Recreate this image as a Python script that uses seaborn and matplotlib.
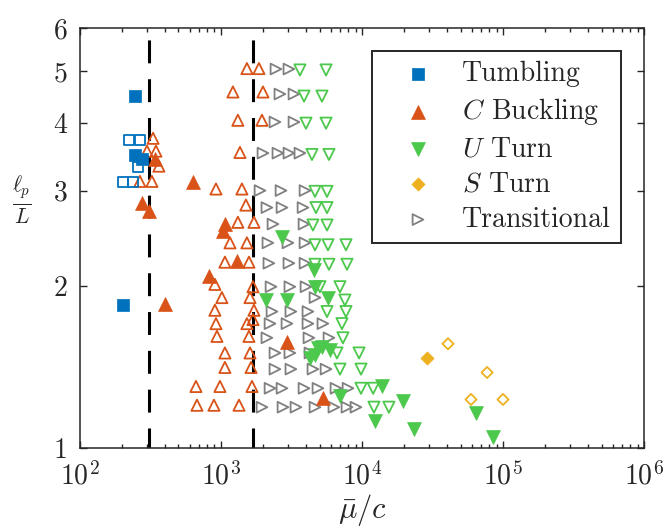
import numpy as np
import pandas as pd
import matplotlib
matplotlib.use("Agg")
import matplotlib.pyplot as plt
import seaborn as sns
from matplotlib.ticker import FixedLocator, FixedFormatter, LogLocator, NullLocator, NullFormatter

# ---------------- data ----------------
tumbling_filled_x = [245, 245, 276, 202]
tumbling_filled_y = [4.50, 3.49, 3.43, 1.84]
tumbling_open_x = [223, 267, 258, 202, 238]
tumbling_open_y = [3.72, 3.72, 3.32, 3.11, 3.11]

cbuck_filled_x = [340, 276, 309, 633, 1067, 1040, 1290, 822, 401, 2938, 5284]
cbuck_filled_y = [3.43, 2.85, 2.75, 3.11, 2.60, 2.52, 2.22, 2.08, 1.85, 1.57, 1.24]
cbuck_open_x = [330, 299, 346, 363, 266, 324,
                1528, 1860, 1216, 1986, 1318, 1953, 1364,
                922, 1408, 1503, 1318, 1714, 1159, 1528,
                1067, 1580, 906, 1687, 1015, 1607, 906, 1714,
                922, 1528, 1687, 937, 1580, 1067, 1607, 1067, 1635,
                665, 984, 1660, 676, 892, 1343]
cbuck_open_y = [3.75, 3.55, 3.55, 3.33, 3.12, 3.12,
                5.05, 5.05, 4.57, 4.57, 4.05, 4.05, 3.53,
                3.02, 3.02, 2.82, 2.62, 2.62, 2.40, 2.40,
                2.21, 2.21, 2.01, 1.99, 1.90, 1.90, 1.80, 1.80,
                1.70, 1.70, 1.73, 1.61, 1.61, 1.50, 1.50, 1.41, 1.41,
                1.30, 1.30, 1.30, 1.20, 1.20, 1.20]

uturn_filled_x = [2710, 4570, 4644, 2084, 2938, 5742, 5202, 5929, 4277, 4644,
                  4900, 6982, 13870, 19540, 12360, 23400, 64400, 84900]
uturn_filled_y = [2.46, 2.14, 1.99, 1.88, 1.88, 1.90, 1.54, 1.52, 1.47, 1.49,
                  1.53, 1.25, 1.30, 1.22, 1.12, 1.085, 1.16, 1.05]
uturn_open_x = [3631, 5561, 3882, 5202, 4009, 5561, 4420, 5834, 4644, 5651,
                4721, 5651, 4490, 5651, 4644, 5742, 7703, 4644, 5834, 7830,
                5035, 6982, 7570, 5651, 7703, 7211, 7330, 6650, 9531,
                6982, 9842, 9842, 12000, 12160, 15520]
uturn_open_y = [5.02, 5.02, 4.49, 4.49, 4.00, 4.00, 3.50, 3.50, 2.99, 2.99,
                2.79, 2.79, 2.59, 2.59, 2.38, 2.38, 2.38, 2.19, 2.19, 2.19,
                1.99, 1.99, 1.88, 1.79, 1.79, 1.70, 1.60, 1.50, 1.50,
                1.40, 1.40, 1.29, 1.29, 1.19, 1.19]

sturn_filled_x = [28900]
sturn_filled_y = [1.47]
sturn_open_x = [40740, 77100, 59300, 100000]
sturn_open_y = [1.56, 1.38, 1.23, 1.23]

trans_x = [2456, 3034, 2619, 3295, 2415, 3295,
           1986, 2535, 3034, 3631, 1892, 2666, 3945,
           2118, 2710, 3819, 2339, 3882, 2153, 2985, 3945,
           2188, 3034, 3945, 2265, 3082, 4009, 4644,
           2301, 3133, 4139, 2228, 2938, 4139, 5284,
           2118, 4207, 5834, 2415, 3082, 4277,
           2415, 3133, 4490, 5561,
           2228, 2710, 3882, 4875, 6543, 7962,
           1955, 2754, 3404, 4644, 6324, 7830, 9065]
trans_y = [5.04, 5.04, 4.53, 4.53, 4.02, 4.02,
           3.52, 3.52, 3.52, 3.52, 3.00, 3.00, 3.00,
           2.79, 2.79, 2.79, 2.60, 2.60, 2.40, 2.40, 2.40,
           2.20, 2.20, 2.20, 1.99, 1.99, 1.99, 1.90,
           1.79, 1.79, 1.79, 1.70, 1.70, 1.70, 1.70,
           1.60, 1.60, 1.60, 1.50, 1.50, 1.50,
           1.40, 1.40, 1.40, 1.40,
           1.29, 1.29, 1.29, 1.29, 1.29, 1.29,
           1.19, 1.19, 1.19, 1.19, 1.19, 1.19, 1.19]

thresholds = [308, 1690]

x_ticks = [1e2, 1e3, 1e4, 1e5, 1e6]
x_tick_labels = [r"$10^{2}$", r"$10^{3}$", r"$10^{4}$", r"$10^{5}$", r"$10^{6}$"]
y_ticks = [1, 2, 3, 4, 5, 6]
y_tick_labels = ["1", "2", "3", "4", "5", "6"]

legend_labels = ["Tumbling", r"$C$ Buckling", r"$U$ Turn", r"$S$ Turn", "Transitional"]

# ---------------- style ----------------
sns.set_style("ticks")
plt.rcParams["font.family"] = ["cmr10", "DejaVu Sans"]
plt.rcParams["mathtext.fontset"] = "cm"
plt.rcParams["axes.unicode_minus"] = False
plt.rcParams["axes.formatter.use_mathtext"] = True

blue = "#0072BD"
orange = "#D95319"
green = "#4CC84C"
yellow = "#EDB120"
gray = "#808080"

fig = plt.figure(figsize=(6.66, 5.32), dpi=100)
ax = fig.add_axes([0.120, 0.158, 0.847, 0.789])

for t in thresholds:
    ax.plot([t, t], [6, 1], color="black", lw=2.2,
            linestyle=(8.8, (7.5, 5.2)), zorder=1)

def open_pts(xs, ys, marker, color, s, lw=1.3, label="_nolegend_", z=2):
    return sns.scatterplot(x=xs, y=ys, ax=ax, marker=marker, s=s,
                           color=color, facecolor="none", edgecolor=color,
                           linewidth=lw, label=label, zorder=z, legend=False)

def filled_pts(xs, ys, marker, color, s, label="_nolegend_", z=3):
    return sns.scatterplot(x=xs, y=ys, ax=ax, marker=marker, s=s,
                           color=color, edgecolor=color, linewidth=0.5,
                           label=label, zorder=z, legend=False)

open_pts(trans_x, trans_y, ">", gray, 60, label=legend_labels[4])
open_pts(cbuck_open_x, cbuck_open_y, "^", orange, 65)
open_pts(uturn_open_x, uturn_open_y, "v", green, 65)
open_pts(sturn_open_x, sturn_open_y, "D", yellow, 32)
open_pts(tumbling_open_x, tumbling_open_y, "s", blue, 55)
filled_pts(cbuck_filled_x, cbuck_filled_y, "^", orange, 100, label=legend_labels[1])
filled_pts(uturn_filled_x, uturn_filled_y, "v", green, 100, label=legend_labels[2])
filled_pts(sturn_filled_x, sturn_filled_y, "D", yellow, 45, label=legend_labels[3])
filled_pts(tumbling_filled_x, tumbling_filled_y, "s", blue, 65, label=legend_labels[0])

ax.set_xscale("log")
ax.set_yscale("log")
ax.set_xlim(1e2, 1e6)
ax.set_ylim(1, 6)

ax.xaxis.set_major_locator(FixedLocator(x_ticks))
ax.xaxis.set_major_formatter(FixedFormatter(x_tick_labels))
ax.xaxis.set_minor_locator(LogLocator(base=10, subs=np.arange(2, 10)))
ax.xaxis.set_minor_formatter(NullFormatter())
ax.yaxis.set_major_locator(FixedLocator(y_ticks))
ax.yaxis.set_major_formatter(FixedFormatter(y_tick_labels))
ax.yaxis.set_minor_locator(NullLocator())

ax.tick_params(which="both", direction="in", top=True, right=True,
               color="#262626", width=1.0)
ax.tick_params(which="major", length=5)
ax.tick_params(which="minor", length=3)
ax.tick_params(axis="x", labelsize=20, pad=10)
ax.tick_params(axis="y", labelsize=20, pad=9)
for sp in ax.spines.values():
    sp.set_color("#262626")
    sp.set_linewidth(1.1)

ax.set_xlabel(r"$\bar{\mu}/c$", fontsize=22, labelpad=1)
ax.set_ylabel(r"$\frac{\ell_p}{L}$", fontsize=22, rotation=0, va="center", ha="center")
ax.yaxis.set_label_coords(-0.103, 0.59)

handles, labels = ax.get_legend_handles_labels()
order = [labels.index(l) for l in legend_labels]
leg = ax.legend([handles[i] for i in order], [labels[i] for i in order],
                loc="upper right", bbox_to_anchor=(0.959, 0.945), borderaxespad=0,
                fontsize=20, frameon=True, fancybox=False, framealpha=1,
                edgecolor="#262626", borderpad=0.35, labelspacing=0.32,
                handlelength=2.6, handletextpad=0.3, scatterpoints=1)
leg.get_frame().set_linewidth(1.4)

fig.savefig("out.png", dpi=100)
